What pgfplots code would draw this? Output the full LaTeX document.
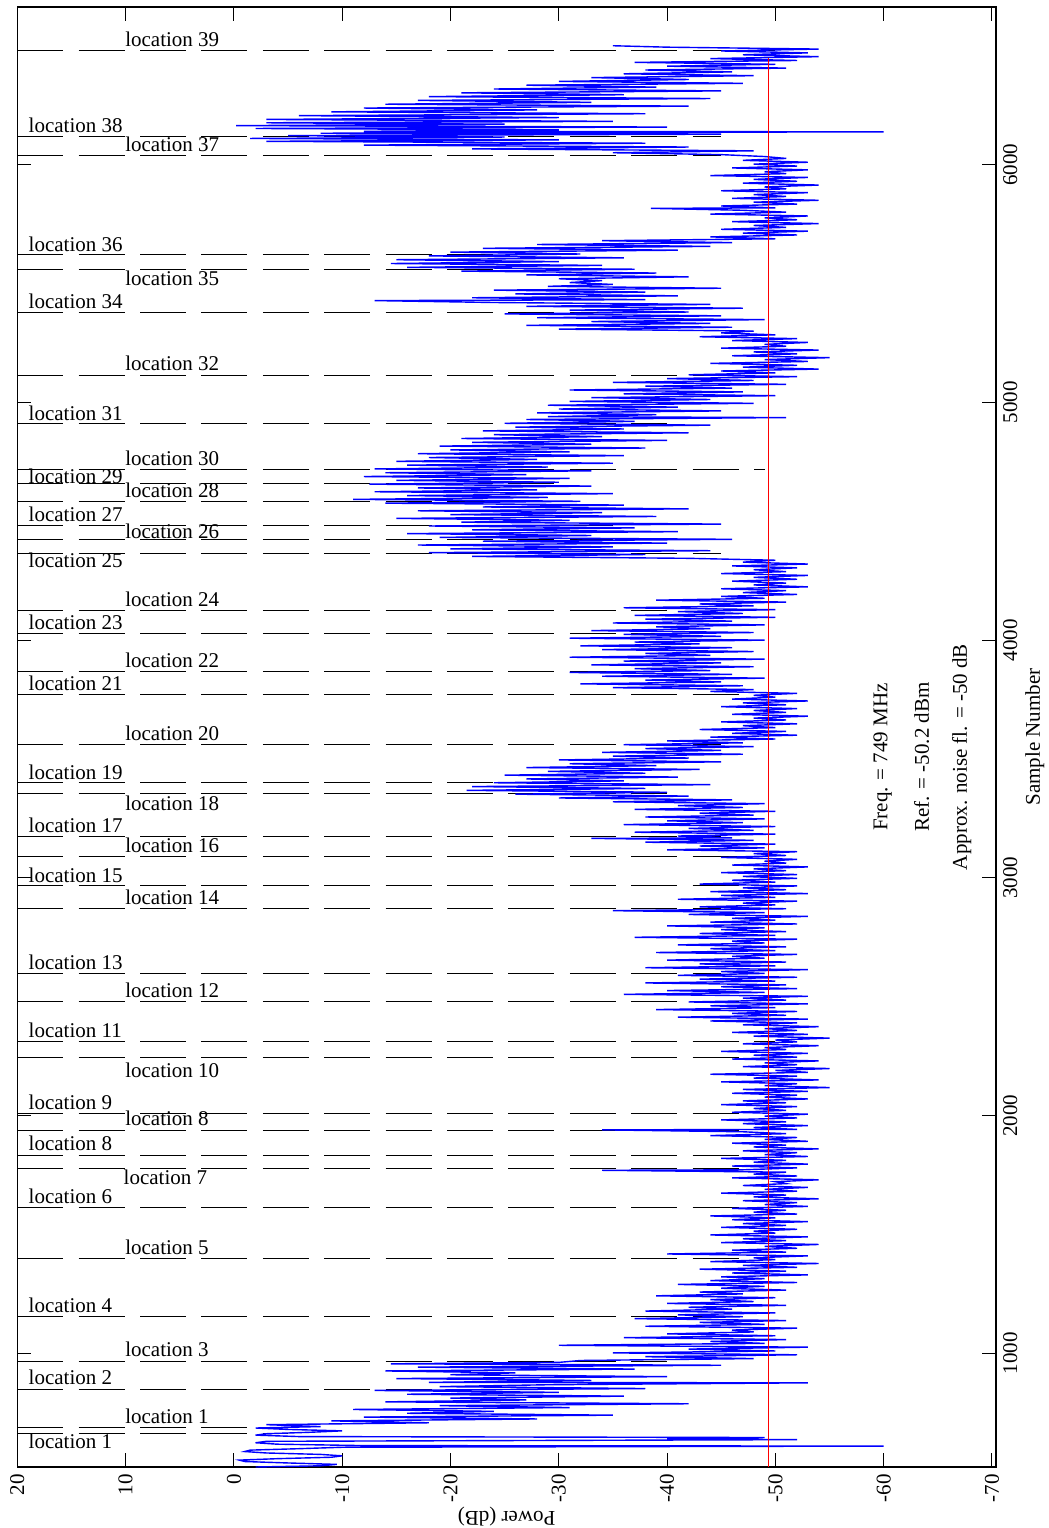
\documentclass[border=0pt]{standalone}
\usepackage{pgfplots}
\pgfplotsset{compat=1.18}
\usepackage{fontspec}
\setmainfont{Liberation Serif}
\begin{document}
\begin{tikzpicture}[font=\fontsize{10.5}{12}\selectfont]
\begin{axis}[name=ax, scale only axis, width=489.35pt, height=730pt,
 x dir=reverse, xmin=-70.37, xmax=20, ymin=522, ymax=6663,
 xtick={-70,-60,...,20}, xticklabels={-70,-60,-50,-40,-30,-20,-10,0,10,20},
 ytick={1000,2000,...,6000}, yticklabels={1000,2000,3000,4000,5000,6000},
 yticklabel pos=right,
 every tick label/.append style={font=\fontsize{10.5}{12}\selectfont},
 xticklabel style={rotate=90, anchor=east},
 yticklabel style={rotate=90, anchor=north},
 major tick length=7pt,
 axis line style={line width=0.6pt},
 tick style={line width=0.5pt, black},
 xlabel={Power (dB)}, ylabel={Sample Number},
 xlabel style={at={(axis description cs:0.5,-0.0336)}, anchor=center, rotate=180, font=\fontsize{10.5}{12}\selectfont},
 ylabel style={at={(axis description cs:1.0398,0.5)}, anchor=center, font=\fontsize{10.5}{12}\selectfont},
 unbounded coords=jump, clip=true]

% location marker lines
\addplot[black, line width=0.5pt, dash pattern=on 23pt off 7.7pt] coordinates {
(20,6480) (-50,6480) (nan,nan)
(20,6120) (-45,6120) (nan,nan)
(20,6040) (-45,6040) (nan,nan)
(20,5623) (-30,5623) (nan,nan)
(20,5557) (-25,5557) (nan,nan)
(20,5379) (-35,5379) (nan,nan)
(20,5115) (-48,5115) (nan,nan)
(20,4909) (-40,4909) (nan,nan)
(20,4719) (-49,4719) (nan,nan)
(20,4657) (-30,4657) (nan,nan)
(20,4583) (-30,4583) (nan,nan)
(20,4484) (-35,4484) (nan,nan)
(20,4422) (-35,4422) (nan,nan)
(20,4365) (-45,4365) (nan,nan)
(20,4123) (-40,4123) (nan,nan)
(20,4029) (-40,4029) (nan,nan)
(20,3867) (-40,3867) (nan,nan)
(20,3773) (-48,3773) (nan,nan)
(20,3559) (-45,3559) (nan,nan)
(20,3400) (-30,3400) (nan,nan)
(20,3353) (-40,3353) (nan,nan)
(20,3173) (-45,3173) (nan,nan)
(20,3089) (-48,3089) (nan,nan)
(20,2966) (-48,2966) (nan,nan)
(20,2870) (-45,2870) (nan,nan)
(20,2598) (-45,2598) (nan,nan)
(20,2478) (-48,2478) (nan,nan)
(20,2311) (-50,2311) (nan,nan)
(20,2245) (-48,2245) (nan,nan)
(20,2010) (-48,2010) (nan,nan)
(20,1939) (-48,1939) (nan,nan)
(20,1833) (-48,1833) (nan,nan)
(20,1778) (-48,1778) (nan,nan)
(20,1614) (-48,1614) (nan,nan)
(20,1398) (-48,1398) (nan,nan)
(20,1154) (-45,1154) (nan,nan)
(20,965) (-40,965) (nan,nan)
(20,849) (-25,849) (nan,nan)
(20,687) (-5,687) (nan,nan)
(20,663) (-5,663)
};

% measured power trace
\addplot[blue, line width=0.7pt] table[row sep=\\, x=p, y=s] {
s p\\
522 -2\\ 527 -8\\ 533 -9.5\\ 539 -5\\ 545 -1\\ 551 -0.5\\ 557 -4\\ 563 -9\\ 569 -10\\ 575 -8\\
581 -3\\ 587 -1\\ 593 -1.5\\ 599 -6\\ 605 -10\\ 610 -60\\ 612 -12\\ 618 -4\\ 624 -2\\ 630 -3\\
635 -38\\ 637 -52\\ 640 -40\\ 646 -49\\ 650 -6\\ 656 -2\\ 662 -3\\ 668 -7\\ 674 -10\\ 680 -5\\
686 -2\\ 692 -8\\
700 -3\\ 708 -18\\ 716 -9\\ 724 -28\\ 732 -12\\ 740 -35\\ 748 -16\\ 756 -24\\ 764 -11\\ 772 -31\\
780 -19\\ 788 -42\\ 796 -14\\ 804 -27\\ 812 -20\\ 820 -36\\ 828 -16\\ 836 -30\\ 844 -13\\ 852 -38\\
860 -19\\ 868 -29\\ 876 -53\\ 878 -18\\ 886 -33\\ 894 -15\\ 902 -40\\ 910 -20\\ 918 -26\\ 926 -14\\
934 -37\\ 942 -17\\ 950 -45\\ 956 -14.5\\ 962 -30\\
970 -32\\ 978 -48\\ 986 -38\\ 994 -52\\ 1002 -35\\ 1010 -50\\ 1018 -42\\ 1026 -53\\ 1034 -30\\ 1042 -49\\
1050 -44\\ 1058 -51\\ 1066 -36\\ 1074 -50\\ 1082 -40\\ 1090 -48\\ 1098 -46\\ 1106 -52\\ 1114 -38\\ 1122 -49\\
1130 -43\\ 1138 -51\\
1146 -37\\ 1154 -47\\ 1162 -41\\ 1170 -50\\ 1178 -38\\ 1186 -46\\ 1194 -42\\ 1202 -51\\ 1210 -40\\ 1218 -48\\
1226 -44\\ 1234 -50\\ 1242 -39\\ 1250 -47\\ 1258 -43\\ 1266 -51\\ 1274 -45\\ 1282 -49\\ 1290 -41\\ 1298 -52\\
1306 -44\\
1314 -49\\ 1322 -45\\ 1330 -53\\ 1338 -46\\ 1346 -51\\ 1354 -43\\ 1362 -52\\ 1370 -47\\ 1378 -54\\ 1386 -44\\
1394 -50\\ 1402 -48\\ 1410 -53\\ 1418 -40\\ 1426 -51\\ 1434 -46\\ 1442 -52\\ 1450 -49\\ 1458 -54\\ 1466 -45\\
1474 -51\\ 1482 -47\\ 1490 -53\\ 1498 -44\\ 1506 -50\\ 1514 -48\\ 1522 -52\\ 1530 -45\\ 1538 -51\\ 1546 -47\\
1554 -53\\ 1562 -46\\ 1570 -50\\ 1578 -44\\ 1586 -52\\ 1594 -48\\ 1602 -51\\ 1610 -46\\ 1618 -53\\ 1626 -49\\
1634 -52\\ 1642 -47\\ 1650 -54\\ 1658 -48\\ 1666 -51\\ 1674 -45\\ 1682 -52\\ 1690 -49\\ 1698 -53\\ 1706 -47\\
1714 -51\\ 1722 -50\\ 1730 -54\\ 1738 -46\\ 1746 -52\\ 1754 -48\\ 1762 -51\\ 1770 -34\\ 1772 -47\\
1780 -52\\ 1788 -46\\ 1796 -53\\ 1804 -48\\ 1812 -51\\ 1820 -45\\ 1828 -53\\ 1836 -49\\ 1844 -52\\ 1852 -47\\
1860 -54\\ 1868 -48\\ 1876 -51\\ 1884 -46\\ 1892 -53\\ 1900 -49\\ 1908 -52\\ 1916 -44\\ 1924 -51\\ 1932 -47\\
1940 -34\\ 1942 -52\\ 1950 -48\\ 1958 -53\\ 1966 -47\\ 1974 -51\\ 1982 -45\\ 1990 -52\\ 1998 -49\\ 2006 -53\\
2014 -46\\ 2022 -51\\ 2030 -48\\ 2038 -52\\ 2046 -45\\ 2054 -51\\ 2062 -47\\ 2070 -53\\ 2078 -49\\ 2086 -52\\
2094 -46\\
2102 -53\\ 2110 -47\\ 2118 -55\\ 2126 -49\\ 2134 -52\\ 2142 -45\\ 2150 -54\\ 2158 -48\\ 2166 -52\\ 2174 -44\\
2182 -53\\ 2190 -50\\ 2198 -55\\ 2206 -47\\ 2214 -52\\ 2222 -49\\ 2230 -54\\ 2238 -46\\ 2246 -52\\ 2254 -48\\
2262 -53\\ 2270 -45\\ 2278 -51\\ 2286 -49\\ 2294 -54\\ 2302 -47\\ 2310 -52\\ 2318 -50\\ 2326 -55\\ 2334 -48\\
2342 -53\\ 2350 -46\\ 2358 -52\\ 2366 -49\\ 2374 -54\\ 2382 -47\\ 2390 -52\\
2398 -44\\ 2406 -53\\ 2414 -41\\ 2422 -51\\ 2430 -46\\ 2438 -52\\ 2446 -39\\ 2454 -50\\ 2462 -44\\ 2470 -53\\
2478 -42\\ 2486 -51\\ 2494 -47\\ 2502 -53\\ 2510 -36\\ 2518 -49\\ 2526 -40\\ 2534 -52\\ 2542 -45\\ 2550 -51\\
2558 -38\\ 2566 -50\\ 2574 -43\\ 2582 -52\\ 2590 -41\\ 2598 -49\\ 2606 -45\\ 2614 -53\\ 2622 -38\\ 2630 -50\\
2638 -43\\ 2646 -51\\ 2654 -40\\ 2662 -49\\ 2670 -46\\ 2678 -52\\ 2686 -39\\ 2694 -50\\ 2702 -44\\ 2710 -51\\
2718 -41\\ 2726 -49\\ 2734 -46\\ 2742 -52\\ 2750 -37\\ 2758 -50\\ 2766 -43\\ 2774 -51\\ 2782 -45\\ 2790 -49\\
2798 -40\\ 2806 -52\\ 2814 -44\\ 2822 -50\\ 2830 -46\\ 2838 -53\\ 2846 -42\\ 2854 -49\\ 2862 -35\\ 2870 -51\\
2878 -43\\ 2886 -50\\ 2894 -47\\ 2902 -52\\ 2910 -41\\ 2918 -50\\ 2926 -45\\ 2934 -53\\ 2942 -44\\ 2950 -51\\
2958 -47\\ 2966 -52\\ 2974 -43\\ 2982 -50\\ 2990 -46\\ 2998 -52\\
3006 -47\\ 3014 -52\\ 3022 -45\\ 3030 -51\\ 3038 -48\\ 3046 -53\\ 3054 -46\\ 3062 -51\\ 3070 -49\\ 3078 -52\\
3086 -45\\ 3094 -51\\ 3102 -48\\ 3110 -52\\
3118 -40\\ 3126 -49\\ 3134 -43\\ 3142 -50\\ 3150 -38\\ 3158 -48\\ 3166 -33\\ 3168 -46\\ 3176 -41\\ 3184 -50\\
3192 -37\\ 3200 -48\\ 3208 -42\\ 3216 -50\\ 3224 -36\\ 3232 -47\\ 3240 -40\\ 3248 -49\\ 3256 -38\\ 3264 -48\\
3272 -43\\ 3280 -50\\ 3288 -37\\ 3296 -47\\ 3304 -41\\ 3312 -49\\ 3320 -35\\ 3328 -46\\
3336 -30\\ 3344 -42\\ 3352 -26\\ 3360 -40\\ 3368 -21.5\\ 3376 -38\\ 3384 -22\\ 3392 -44\\ 3400 -24\\ 3408 -36\\
3416 -27\\ 3424 -41\\ 3432 -25\\ 3440 -38\\ 3448 -29\\ 3456 -43\\ 3464 -27\\ 3472 -39\\ 3480 -31\\ 3488 -45\\
3496 -30\\ 3504 -42\\ 3512 -35\\ 3520 -47\\ 3528 -34\\ 3536 -45\\ 3544 -38\\ 3552 -48\\ 3560 -36\\ 3568 -47\\
3576 -40\\
3584 -50\\ 3592 -44\\ 3600 -52\\ 3608 -46\\ 3616 -51\\ 3624 -43\\ 3632 -50\\ 3640 -47\\ 3648 -52\\ 3656 -45\\
3664 -51\\ 3672 -48\\ 3680 -53\\ 3688 -46\\ 3696 -51\\ 3704 -48\\ 3712 -52\\ 3720 -45\\ 3728 -51\\ 3736 -47\\
3744 -53\\ 3752 -46\\ 3760 -50\\ 3768 -48\\ 3776 -52\\ 3784 -44\\
3792 -48\\ 3800 -35\\ 3808 -47\\ 3816 -32\\ 3824 -45\\ 3832 -38\\ 3840 -49\\ 3848 -34\\ 3856 -46\\ 3864 -31\\
3872 -44\\ 3880 -37\\ 3888 -48\\ 3896 -33\\ 3904 -45\\ 3912 -36\\ 3920 -49\\ 3928 -31\\ 3936 -44\\ 3944 -38\\
3952 -48\\ 3960 -34\\ 3968 -46\\ 3976 -32\\ 3984 -43\\ 3992 -37\\ 4000 -49\\ 4008 -31\\ 4016 -45\\ 4024 -36\\
4032 -48\\ 4040 -33\\ 4048 -44\\ 4056 -39\\ 4064 -49\\ 4072 -35\\ 4080 -46\\ 4088 -38\\ 4096 -50\\ 4104 -37\\
4112 -47\\ 4120 -41\\ 4128 -50\\ 4136 -36\\ 4144 -48\\ 4152 -43\\ 4160 -51\\ 4168 -39\\
4176 -49\\ 4184 -45\\ 4192 -52\\ 4200 -47\\ 4208 -51\\ 4216 -45\\ 4224 -53\\ 4232 -48\\ 4240 -51\\ 4248 -46\\
4256 -52\\ 4264 -48\\ 4272 -53\\ 4280 -45\\ 4288 -51\\ 4296 -48\\ 4304 -52\\ 4312 -46\\ 4320 -53\\ 4328 -47\\
4336 -50\\
4344 -42\\ 4352 -22\\ 4360 -38\\ 4368 -18\\ 4376 -44\\ 4384 -20\\ 4392 -35\\ 4400 -17\\ 4408 -40\\ 4416 -23\\
4424 -46\\ 4432 -19\\ 4440 -33\\ 4448 -16\\ 4456 -41\\ 4464 -22\\ 4472 -37\\ 4480 -18\\ 4488 -45\\ 4496 -21\\
4504 -31\\ 4512 -15\\ 4520 -39\\ 4528 -20\\ 4536 -34\\ 4544 -17\\ 4552 -42\\ 4560 -23\\ 4568 -36\\ 4576 -14\\
4584 -32\\ 4592 -11\\ 4600 -29\\ 4608 -16\\ 4616 -35\\ 4624 -13\\ 4632 -28\\ 4640 -17\\ 4648 -33\\ 4656 -12.5\\
4664 -30\\ 4672 -15\\
4680 -31\\ 4688 -12\\ 4696 -27\\ 4704 -14\\ 4712 -33\\ 4720 -13\\ 4728 -29\\ 4736 -16\\ 4744 -35\\ 4752 -15\\
4760 -28\\ 4768 -18\\ 4776 -36\\ 4784 -17\\ 4792 -31\\ 4800 -20\\ 4808 -38\\ 4816 -19\\ 4824 -33\\ 4832 -22\\
4840 -40\\ 4848 -21\\ 4856 -34\\ 4864 -24\\ 4872 -42\\ 4880 -23\\ 4888 -36\\ 4896 -26\\ 4904 -44\\ 4912 -25\\
4920 -37\\ 4928 -27\\ 4936 -51\\ 4940 -29\\ 4948 -39\\ 4956 -28\\ 4964 -45\\ 4972 -30\\ 4980 -41\\ 4988 -29\\
4996 -48\\ 5004 -31\\
5012 -44\\ 5020 -33\\ 5028 -50\\ 5036 -36\\ 5044 -47\\ 5052 -31\\ 5060 -46\\ 5068 -38\\ 5076 -51\\ 5084 -35\\
5092 -48\\ 5100 -40\\ 5108 -52\\ 5116 -42\\ 5124 -50\\ 5132 -45\\ 5140 -54\\ 5148 -47\\ 5156 -52\\ 5164 -44\\
5172 -53\\ 5180 -49\\ 5188 -55\\ 5196 -46\\ 5204 -52\\ 5212 -48\\ 5220 -54\\ 5228 -45\\ 5236 -51\\ 5244 -49\\
5252 -53\\ 5260 -46\\ 5268 -52\\ 5276 -43\\ 5284 -50\\ 5292 -45\\
5300 -48\\ 5308 -30\\ 5316 -46\\ 5324 -27\\ 5332 -44\\ 5340 -33\\ 5348 -49\\ 5356 -28\\ 5364 -45\\ 5372 -25\\
5380 -42\\ 5388 -31\\ 5396 -47\\ 5404 -27\\ 5412 -44\\ 5420 -24\\ 5428 -13\\ 5432 -38\\
5440 -22\\ 5448 -41\\ 5456 -26\\ 5464 -38\\ 5472 -24\\ 5480 -45\\ 5488 -29\\ 5496 -35\\ 5504 -31\\ 5512 -34\\
5520 -30\\ 5528 -42\\ 5536 -27\\ 5544 -39\\ 5552 -21\\ 5560 -37\\ 5568 -16\\ 5576 -34\\ 5584 -14.5\\ 5592 -30\\
5600 -15\\ 5608 -36\\ 5616 -18\\ 5624 -32\\ 5632 -20\\ 5640 -41\\ 5648 -23\\ 5656 -44\\ 5664 -28\\ 5672 -46\\
5680 -34\\
5688 -50\\ 5696 -44\\ 5704 -52\\ 5712 -47\\ 5720 -53\\ 5728 -45\\ 5736 -51\\ 5744 -48\\ 5752 -54\\ 5760 -46\\
5768 -52\\ 5776 -49\\ 5784 -53\\ 5792 -44\\ 5800 -51\\ 5808 -47\\ 5816 -38.5\\ 5818 -50\\ 5826 -45\\ 5834 -52\\
5842 -48\\ 5850 -54\\ 5858 -46\\ 5866 -51\\ 5874 -48\\ 5882 -53\\ 5890 -45\\ 5898 -51\\ 5906 -49\\ 5914 -54\\
5922 -47\\ 5930 -52\\ 5938 -48\\ 5946 -53\\ 5954 -44\\ 5962 -51\\ 5970 -49\\ 5978 -53\\ 5986 -46\\ 5994 -52\\
6002 -48\\ 6010 -53\\ 6018 -47\\ 6026 -51\\ 6034 -49\\ 6042 -45\\
6050 -35\\ 6058 -48\\ 6066 -22\\ 6074 -42\\ 6082 -12\\ 6090 -38\\ 6098 -3\\ 6104 -30\\ 6110 -1.5\\ 6116 -25\\
6122 -5\\ 6128 -45\\ 6132 -8\\ 6138 -60\\ 6140 -12\\ 6146 -30\\ 6152 -2\\ 6158 -40\\ 6164 -0.2\\ 6170 -25\\
6176 -3\\ 6182 -35\\
6190 -3\\ 6198 -30\\ 6206 -6\\ 6214 -38\\ 6222 -9\\ 6230 -28\\ 6238 -12\\ 6246 -42\\ 6254 -14\\ 6262 -33\\
6270 -17\\ 6278 -44\\ 6286 -18\\ 6294 -36\\ 6302 -21\\ 6310 -45\\ 6318 -24\\ 6326 -39\\ 6334 -27\\ 6342 -47\\
6350 -30\\ 6358 -42\\ 6366 -33\\ 6374 -48\\ 6382 -36\\ 6390 -46\\ 6398 -38\\ 6406 -51\\ 6414 -40\\ 6422 -50\\
6430 -37\\
6438 -52\\ 6446 -44\\ 6454 -54\\ 6462 -47\\ 6470 -53\\ 6478 -45\\ 6486 -54\\ 6494 -40\\ 6500 -35\\
};

% approximate noise floor
\addplot[red, line width=0.5pt] coordinates {(-49.4,522) (-49.4,6450)};

% location labels
\node[anchor=west, inner sep=0pt] at (axis cs:10.06,6525) {location 39};
\node[anchor=west, inner sep=0pt] at (axis cs:18.98,6167) {location 38};
\node[anchor=west, inner sep=0pt] at (axis cs:10.06,6087) {location 37};
\node[anchor=west, inner sep=0pt] at (axis cs:18.98,5666) {location 36};
\node[anchor=west, inner sep=0pt] at (axis cs:10.06,5522) {location 35};
\node[anchor=west, inner sep=0pt] at (axis cs:18.98,5427) {location 34};
\node[anchor=west, inner sep=0pt] at (axis cs:10.06,5166) {location 32};
\node[anchor=west, inner sep=0pt] at (axis cs:18.98,4954) {location 31};
\node[anchor=west, inner sep=0pt] at (axis cs:10.06,4765) {location 30};
\node[anchor=west, inner sep=0pt] at (axis cs:18.98,4688) {location 29};
\node[anchor=west, inner sep=0pt] at (axis cs:10.06,4632) {location 28};
\node[anchor=west, inner sep=0pt] at (axis cs:18.98,4531) {location 27};
\node[anchor=west, inner sep=0pt] at (axis cs:10.06,4459) {location 26};
\node[anchor=west, inner sep=0pt] at (axis cs:18.98,4334) {location 25};
\node[anchor=west, inner sep=0pt] at (axis cs:10.06,4172) {location 24};
\node[anchor=west, inner sep=0pt] at (axis cs:18.98,4075) {location 23};
\node[anchor=west, inner sep=0pt] at (axis cs:10.06,3914) {location 22};
\node[anchor=west, inner sep=0pt] at (axis cs:18.98,3818) {location 21};
\node[anchor=west, inner sep=0pt] at (axis cs:10.06,3609) {location 20};
\node[anchor=west, inner sep=0pt] at (axis cs:18.98,3444) {location 19};
\node[anchor=west, inner sep=0pt] at (axis cs:10.06,3314) {location 18};
\node[anchor=west, inner sep=0pt] at (axis cs:18.98,3222) {location 17};
\node[anchor=west, inner sep=0pt] at (axis cs:10.06,3138) {location 16};
\node[anchor=west, inner sep=0pt] at (axis cs:18.98,3012) {location 15};
\node[anchor=west, inner sep=0pt] at (axis cs:10.06,2918) {location 14};
\node[anchor=west, inner sep=0pt] at (axis cs:18.98,2645) {location 13};
\node[anchor=west, inner sep=0pt] at (axis cs:10.06,2528) {location 12};
\node[anchor=west, inner sep=0pt] at (axis cs:18.98,2360) {location 11};
\node[anchor=west, inner sep=0pt] at (axis cs:10.06,2192) {location 10};
\node[anchor=west, inner sep=0pt] at (axis cs:18.98,2058) {location 9};
\node[anchor=west, inner sep=0pt] at (axis cs:10.06,1989) {location 8};
\node[anchor=west, inner sep=0pt] at (axis cs:18.98,1883) {location 8};
\node[anchor=west, inner sep=0pt] at (axis cs:10.21,1740) {location 7};
\node[anchor=west, inner sep=0pt] at (axis cs:18.98,1662) {location 6};
\node[anchor=west, inner sep=0pt] at (axis cs:10.06,1448) {location 5};
\node[anchor=west, inner sep=0pt] at (axis cs:18.98,1203) {location 4};
\node[anchor=west, inner sep=0pt] at (axis cs:10.06,1017) {location 3};
\node[anchor=west, inner sep=0pt] at (axis cs:18.98,899) {location 2};
\node[anchor=west, inner sep=0pt] at (axis cs:10.06,736) {location 1};
\node[anchor=west, inner sep=0pt] at (axis cs:18.98,632) {location 1};

% annotations
\node[rotate=90, anchor=center] at (axis cs:-59.9,3508) {Freq. = 749 MHz};
\node[rotate=90, anchor=center] at (axis cs:-63.5,3508) {Ref. = -50.2 dBm};
\node[rotate=90, anchor=center] at (axis cs:-67.2,3508) {Approx. noise fl. = -50 dB};
\end{axis}
\pgfresetboundingbox
\path[use as bounding box] ([shift={(-8.65pt,-30.5pt)}]ax.south west) rectangle ([shift={(26.5pt,3.5pt)}]ax.north east);
\end{tikzpicture}
\end{document}
